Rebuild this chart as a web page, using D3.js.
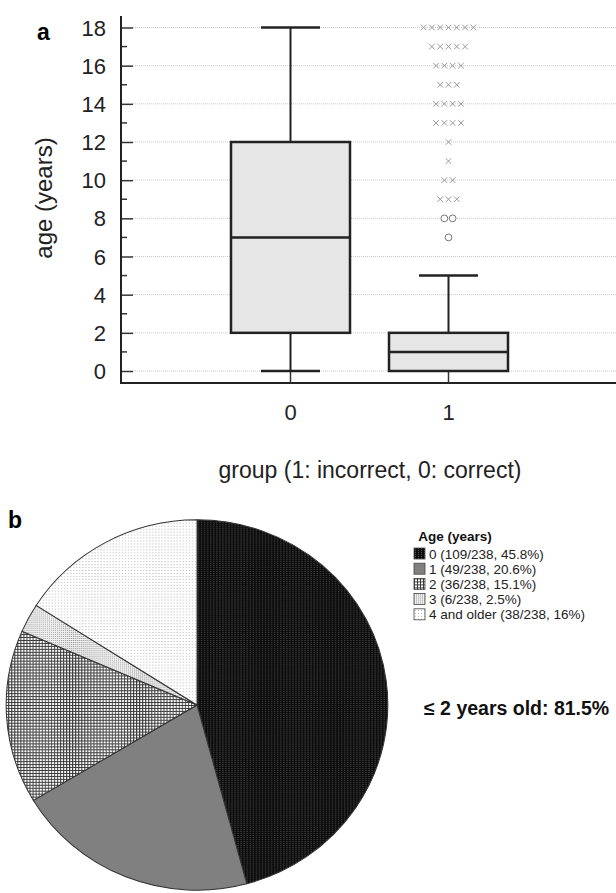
<!DOCTYPE html>
<html>
<head>
<meta charset="utf-8">
<script src="https://cdn.jsdelivr.net/npm/d3@7"></script>
<style>
  body { margin: 0; background: #fff; }
  svg { display: block; }
  text { font-family: "Liberation Sans", Arial, sans-serif; }
</style>
</head>
<body>
<script>
/* data for panel a: box plot of age by group */
var groups = ["0", "1"];
var whiskerLow = [0, 0];
var q1 = [2, 0];
var median = [7, 1];
var q3 = [12, 2];
var whiskerHigh = [18, 5];
var outlierValues = [7, 8, 9, 10, 11, 12, 13, 14, 15, 16, 17, 18];
var outlierCounts = [1, 2, 3, 2, 1, 1, 4, 4, 3, 4, 5, 7];
var yTicks = [0, 2, 4, 6, 8, 10, 12, 14, 16, 18];

/* data for panel b: pie of age classes */
var ageLabels = ["0 (109/238, 45.8%)", "1 (49/238, 20.6%)", "2 (36/238, 15.1%)", "3 (6/238, 2.5%)", "4 and older (38/238, 16%)"];
var ageCounts = [109, 49, 36, 6, 38];

var W = 616, H = 893;
var svg = d3.select("body").append("svg").attr("width", W).attr("height", H);

/* patterns for pie slices */
var defs = svg.append("defs");
function pat(id, w, h, bg, dots) {
    var p = defs.append("pattern").attr("id", id).attr("patternUnits", "userSpaceOnUse")
        .attr("width", w).attr("height", h);
    p.append("rect").attr("width", w).attr("height", h).attr("fill", bg);
    dots.forEach(function(d) {
        p.append("rect").attr("x", d[0]).attr("y", d[1]).attr("width", d[2]).attr("height", d[3]).attr("fill", d[4]);
    });
}
pat("p0", 3, 2, "#0d0d0d", [[1, 0, 1, 1, "#505050"]]);
pat("p1", 4, 4, "#808080", []);
pat("p2", 3, 3, "#fff", [[0, 0, 3, 1, "#3a3a3a"], [0, 0, 1, 3, "#3a3a3a"]]);
pat("p3", 2, 2, "#f0f0f0", [[0, 0, 1, 1, "#9a9a9a"]]);
pat("p4", 3, 3, "#fff", [[1, 1, 1, 1, "#b5b5b5"]]);
var fills = ["url(#p0)", "url(#p1)", "url(#p2)", "url(#p3)", "url(#p4)"];

/* ---------- panel a ---------- */
var axisX = 121, axisY = 383;
var y = d3.scaleLinear().domain([0, 18]).range([371, 27.5]);
var x = d3.scalePoint().domain(groups).range([290.5, 448.5]);
var boxW = 119, capW = 59;

svg.append("text").attr("x", 37).attr("y", 40).attr("font-size", 23).attr("font-weight", "bold").text("a");

// dotted grid lines
svg.selectAll(".grid").data(yTicks).enter().append("line")
    .attr("x1", axisX + 12).attr("x2", W)
    .attr("y1", function(d) { return y(d); }).attr("y2", function(d) { return y(d); })
    .attr("stroke", "#c8c8c8").attr("stroke-dasharray", "1,1");

// y axis with inward ticks
var yAxis = d3.axisRight(y).tickValues(yTicks).tickSize(12).tickFormat("");
var ya = svg.append("g").attr("transform", "translate(" + axisX + ",0)").call(yAxis);
ya.select(".domain").remove();
ya.selectAll("line").attr("stroke", "#333").attr("stroke-width", 1.5);
var minor = d3.range(1, 18, 2);
svg.selectAll(".minor").data(minor).enter().append("line")
    .attr("x1", axisX).attr("x2", axisX + 6)
    .attr("y1", function(d) { return y(d); }).attr("y2", function(d) { return y(d); })
    .attr("stroke", "#333").attr("stroke-width", 1.5);
svg.selectAll(".ylab").data(yTicks).enter().append("text")
    .attr("x", 106).attr("y", function(d) { return y(d) + 8; })
    .attr("text-anchor", "end").attr("font-size", 22).attr("fill", "#222")
    .text(function(d) { return d; });
svg.append("line").attr("x1", axisX).attr("x2", axisX).attr("y1", 16).attr("y2", axisY + 1)
    .attr("stroke", "#222").attr("stroke-width", 2);
svg.append("line").attr("x1", axisX).attr("x2", W).attr("y1", axisY).attr("y2", axisY)
    .attr("stroke", "#222").attr("stroke-width", 2);

// x axis ticks pointing up
svg.selectAll(".xt").data(groups).enter().append("line")
    .attr("x1", function(d) { return x(d); }).attr("x2", function(d) { return x(d); })
    .attr("y1", axisY).attr("y2", axisY - 12).attr("stroke", "#333").attr("stroke-width", 1.5);
svg.selectAll(".xlab").data(groups).enter().append("text")
    .attr("x", function(d) { return x(d); }).attr("y", 420)
    .attr("text-anchor", "middle").attr("font-size", 22).attr("fill", "#222")
    .text(function(d) { return d; });

svg.append("text").attr("transform", "translate(52,198) rotate(-90)")
    .attr("text-anchor", "middle").attr("font-size", 24).attr("fill", "#222").text("age (years)");
svg.append("text").attr("x", 370).attr("y", 478)
    .attr("text-anchor", "middle").attr("font-size", 23).attr("fill", "#222")
    .text("group (1: incorrect, 0: correct)");

// boxes
groups.forEach(function(g, i) {
    var cx = x(g);
    var b = svg.append("g");
    b.append("line").attr("x1", cx).attr("x2", cx).attr("y1", y(whiskerLow[i])).attr("y2", y(whiskerHigh[i]))
        .attr("stroke", "#222").attr("stroke-width", 2);
    [whiskerLow[i], whiskerHigh[i]].forEach(function(v) {
        if (v === q1[i]) return;
        b.append("line").attr("x1", cx - capW / 2).attr("x2", cx + capW / 2)
            .attr("y1", y(v)).attr("y2", y(v)).attr("stroke", "#222").attr("stroke-width", 2.5);
    });
    b.append("rect").attr("x", cx - boxW / 2).attr("width", boxW)
        .attr("y", y(q3[i])).attr("height", y(q1[i]) - y(q3[i]))
        .attr("fill", "#e6e6e6").attr("stroke", "#222").attr("stroke-width", 2.5);
    b.append("line").attr("x1", cx - boxW / 2 - 1).attr("x2", cx + boxW / 2 + 1)
        .attr("y1", y(median[i])).attr("y2", y(median[i])).attr("stroke", "#222").attr("stroke-width", 2.5);
});

// outliers of group 1: circles for mild, crosses for extreme (> Q3 + 3 IQR)
var extremeLimit = q3[1] + 3 * (q3[1] - q1[1]);
var step = 8.3;
outlierValues.forEach(function(v, k) {
    var n = outlierCounts[k];
    for (var j = 0; j < n; j++) {
        var px = x("1") + (j - (n - 1) / 2) * step, py = y(v);
        if (v > extremeLimit) {
            svg.append("path").attr("d", "M" + (px - 2.8) + "," + (py - 2.8) + "L" + (px + 2.8) + "," + (py + 2.8) +
                "M" + (px - 2.8) + "," + (py + 2.8) + "L" + (px + 2.8) + "," + (py - 2.8))
                .attr("stroke", "#999").attr("stroke-width", 1).attr("fill", "none");
        } else {
            svg.append("circle").attr("cx", px).attr("cy", py).attr("r", 3.4)
                .attr("fill", "#fff").attr("stroke", "#777").attr("stroke-width", 1);
        }
    }
});

/* ---------- panel b ---------- */
svg.append("text").attr("x", 8).attr("y", 528).attr("font-size", 23).attr("font-weight", "bold").text("b");

var pie = d3.pie().sort(null).value(function(d) { return d; });
var arc = d3.arc().innerRadius(0).outerRadius(188);
var pg = svg.append("g").attr("transform", "translate(197,705) scale(1.015,0.985)");
pg.selectAll("path").data(pie(ageCounts)).enter().append("path")
    .attr("d", arc)
    .attr("fill", function(d, i) { return fills[i]; })
    .attr("stroke", "#333").attr("stroke-width", 1);

// legend
svg.append("text").attr("x", 455).attr("y", 541).attr("text-anchor", "middle")
    .attr("font-size", 13.5).attr("font-weight", "bold").attr("fill", "#111").text("Age (years)");
var lg = svg.selectAll(".leg").data(ageLabels).enter().append("g")
    .attr("transform", function(d, i) { return "translate(414," + (548 + i * 15.2) + ")"; });
lg.append("rect").attr("width", 11).attr("height", 11)
    .attr("fill", function(d, i) { return fills[i]; }).attr("stroke", "#444").attr("stroke-width", 0.8);
lg.append("text").attr("x", 15).attr("y", 10.5).attr("font-size", 13.5).attr("fill", "#222")
    .text(function(d) { return d; });

svg.append("text").attr("x", 424).attr("y", 715).attr("font-size", 19.5).attr("font-weight", "bold")
    .attr("font-family", "Lato, sans-serif").attr("fill", "#111").text("≤ 2 years old: 81.5%");
</script>
</body>
</html>
